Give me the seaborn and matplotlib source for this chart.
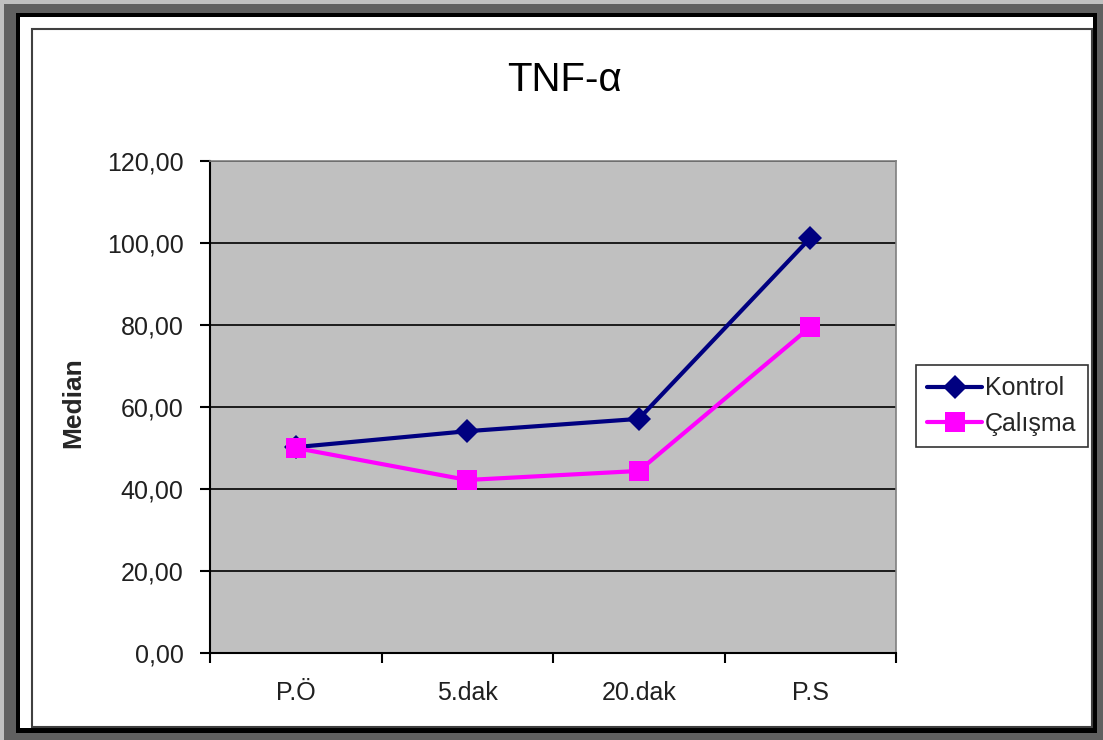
import matplotlib
matplotlib.use("Agg")
import matplotlib.pyplot as plt
from matplotlib.patches import Rectangle
from matplotlib.ticker import FixedLocator, FuncFormatter
import numpy as np
import pandas as pd
import seaborn as sns

# data
categories = ["P.Ö", "5.dak", "20.dak", "P.S"]
kontrol = [50.2, 54.1, 57.1, 101.2]
calisma = [50.0, 42.2, 44.4, 79.5]
series_names = ["Kontrol", "Çalışma"]
yticks = [0, 20, 40, 60, 80, 100, 120]

df = pd.DataFrame({
    "grup": [series_names[0]] * len(categories) + [series_names[1]] * len(categories),
    "zaman": categories * 2,
    "Median": kontrol + calisma,
})

sns.set_style("white")
plt.rcParams["font.family"] = ["Liberation Sans", "DejaVu Sans"]

W, H = 1103, 740
fig = plt.figure(figsize=(W / 100, H / 100), dpi=100)
fig.patch.set_facecolor("#606060")

def px_rect(x0, y0, x1, y1, **kw):
    # pixel box (top-left origin) -> figure fraction rectangle
    r = Rectangle((x0 / W, 1 - y1 / H), (x1 - x0) / W, (y1 - y0) / H,
                  transform=fig.transFigure, zorder=-10, **kw)
    fig.patches.append(r)

# window-like frame
px_rect(0, 0, W, 4, facecolor="#c0c0c0", edgecolor="none")
px_rect(0, 0, 4, H, facecolor="#c0c0c0", edgecolor="none")
px_rect(16, 13, 1097, 733, facecolor="black", edgecolor="none")
px_rect(20, 17, 1093, 728, facecolor="white", edgecolor="none")
px_rect(32, 29, 1092, 727, facecolor="none", edgecolor="#404040", linewidth=1.5)

ax = fig.add_axes([210 / W, 1 - 653 / H, (896 - 210) / W, (653 - 161) / H])
ax.set_facecolor("#c0c0c0")

sns.lineplot(data=df, x="zaman", y="Median", hue="grup", style="grup",
             palette={"Kontrol": "#000080", "Çalışma": "#ff00ff"},
             markers={"Kontrol": "D", "Çalışma": "s"},
             dashes=False, linewidth=3, markersize=12, markeredgewidth=0,
             sort=False, ax=ax)
for ln in ax.lines:
    if ln.get_marker() == "s":
        ln.set_markersize(14)

ax.set_xlim(-0.5, len(categories) - 0.5)
ax.set_ylim(0, 120)
ax.yaxis.set_major_locator(FixedLocator(yticks))
ax.yaxis.set_major_formatter(FuncFormatter(lambda v, p: f"{v:.2f}".replace(".", ",")))
ax.set_xticks(range(len(categories)))
ax.set_xticklabels(categories)
ax.set_xticks(np.arange(-0.5, len(categories), 1.0), minor=True)
ax.tick_params(axis="x", which="major", bottom=False, length=0, pad=20,
               labelsize=18, colors="#202020")
ax.tick_params(axis="x", which="minor", bottom=True, length=7, width=1.5,
               direction="out", color="black")
ax.tick_params(axis="y", left=True, length=7, width=1.5, direction="out", color="black",
               labelsize=18, labelcolor="#202020", pad=12)
ax.grid(axis="y", color="black", linewidth=1.2)
ax.grid(axis="x", visible=False)

for side in ["left", "bottom"]:
    ax.spines[side].set_color("black")
    ax.spines[side].set_linewidth(1.5)
for side in ["top", "right"]:
    ax.spines[side].set_color("#808080")
    ax.spines[side].set_linewidth(1.2)

ax.set_xlabel("")
ax.set_ylabel("")
fig.text(73 / W, 1 - 403 / H, "Median", fontsize=19, fontweight="bold",
         rotation=90, ha="center", va="center")

fig.text(564 / W, 1 - 80 / H, "TNF-α", fontsize=29, ha="center", va="center", color="black")

leg = ax.legend(loc="center left", bbox_to_anchor=(916 / W, 1 - 406 / H),
                bbox_transform=fig.transFigure, frameon=True, fancybox=False,
                fontsize=18, handlelength=2.2, handletextpad=0.1,
                borderpad=0.45, labelspacing=0.45, borderaxespad=0)
leg.get_frame().set_edgecolor("black")
leg.get_frame().set_linewidth(1.2)
leg.set_title(None)

fig.savefig("out.png", dpi=100, facecolor=fig.get_facecolor())
